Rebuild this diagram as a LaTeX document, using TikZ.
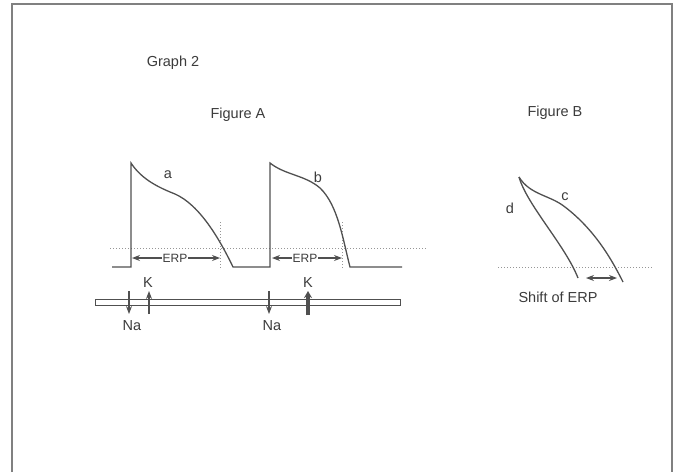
\documentclass[tikz,border=0pt]{standalone}
\usepackage{fontspec}
\setmainfont{Liberation Sans}
\usetikzlibrary{arrows.meta,positioning}
\definecolor{inkgray}{RGB}{80,80,80}
\definecolor{txtgray}{RGB}{60,60,60}
\definecolor{dotgray}{RGB}{150,150,150}

\begin{document}
\begin{tikzpicture}[x=1pt,y=-1pt,
  lbl/.style={inner sep=0pt,text=txtgray,font=\fontsize{14.5}{16}\selectfont},
  erp/.style={inner sep=1pt,fill=white,text=txtgray,font=\fontsize{12}{14}\selectfont},
  wave/.style={inkgray,line width=1.3pt},
  guide/.style={dotgray,line width=1pt,dotted},
  flux/.style={inkgray,line width=1.1pt,-{Stealth[length=8pt,width=6pt]}},
  span/.style={inkgray,line width=1.1pt,{Stealth[length=8pt,width=6pt]}-{Stealth[length=8pt,width=6pt]}}
]
\useasboundingbox (0,0) rectangle (677,472);
\fill[white] (0,0) rectangle (677,472);
% frame, open at the bottom
\draw[gray,line width=1.4pt] (12,472) -- (12,4) -- (672,4) -- (672,472);

% titles
\node[lbl] (title) at (173,63) {Graph 2};
\node[lbl] (figA) at (238,115) {Figure A};
\node[lbl] (figB) at (555,113) {Figure B};

% dotted guides of figure A
\draw[guide] (110,248) -- (427,248);
\draw[guide] (220,222) -- (220,268);
\draw[guide] (342,222) -- (342,268);

% action potentials a and b
\draw[wave] (112,267) -- (131,267) -- (131,163)
  .. controls (142,180) and (160,188) .. (175,194)
  .. controls (200,205) and (220,240) .. (233,267)
  -- (270,267) -- (270,163)
  .. controls (285,175) and (305,175) .. (320,188)
  .. controls (338,205) and (343,240) .. (350,267)
  -- (402,267);
\node[lbl] (a) at (168,175) {a};
\node[lbl] (b) at (318,177) {b};

% ERP spans
\coordinate (e1l) at (132,258);
\coordinate (e1r) at (220,258);
\coordinate (e2l) at (272,258);
\coordinate (e2r) at (342,258);
\draw[span] (e1l) -- (e1r);
\draw[span] (e2l) -- (e2r);
\node[erp] (erp1) at (175,258) {ERP};
\node[erp] (erp2) at (305,258) {ERP};

% membrane with Na and K currents
\draw[inkgray,line width=1pt] (95,299) rectangle (400,305);
\node[lbl] (na1) at (132,326) {Na};
\node[lbl] (k1) at (148,283) {K};
\node[lbl] (na2) at (272,326) {Na};
\node[lbl] (k2) at (308,283) {K};
\coordinate (na1t) at (129,291);
\coordinate (na1b) at (129,314);
\coordinate (k1b) at (149,314);
\coordinate (k1t) at (149,291);
\coordinate (na2t) at (269,291);
\coordinate (na2b) at (269,314);
\coordinate (k2b) at (308,315);
\coordinate (k2t) at (308,291);
\draw[flux] (na1t) -- (na1b);
\draw[flux] (k1b) -- (k1t);
\draw[flux] (na2t) -- (na2b);
\draw[inkgray,line width=3.5pt,-{Stealth[length=7pt,width=8pt]}] (k2b) -- (k2t);

% figure B
\draw[guide] (498,267) -- (653,267);
\coordinate (tip) at (519,177);
\draw[wave] (tip)
  .. controls (530,195) and (550,195) .. (565,207)
  .. controls (595,230) and (612,260) .. (623,282);
\draw[wave] (tip)
  .. controls (527,205) and (565,245) .. (578,278);
\node[lbl] (c) at (565,197) {c};
\node[lbl] (d) at (510,208) {d};
\coordinate (sl) at (586,278);
\coordinate (sr) at (617,278);
\draw[span] (sl) -- (sr);
\node[lbl] (shift) at (558,297) {Shift of ERP};
\end{tikzpicture}
\end{document}
